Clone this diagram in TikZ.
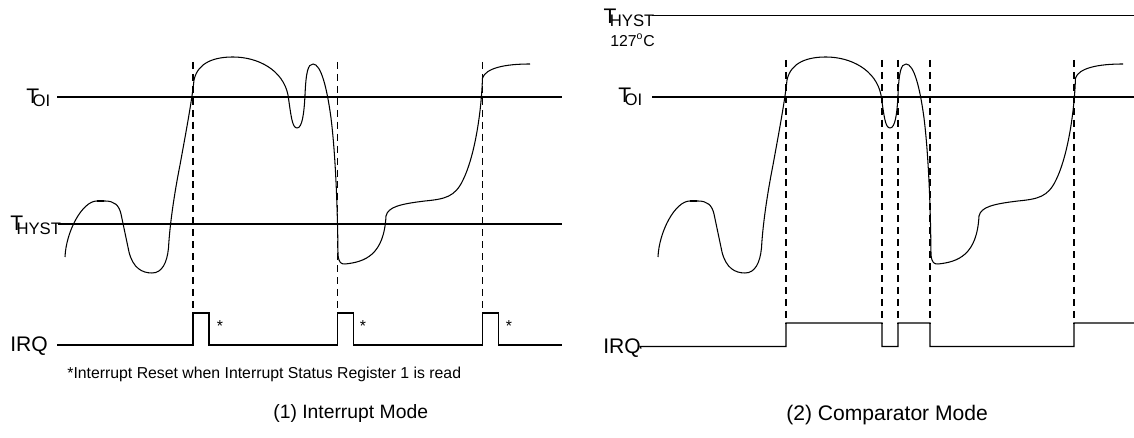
\documentclass[tikz,border=0pt]{standalone}
\usepackage{fontspec}
\setmainfont{Liberation Sans}
\usetikzlibrary{calc}
\tikzstyle{level}=[line width=0.6pt, draw=black]
\tikzstyle{guide}=[line width=0.6pt, dash pattern=on 4pt off 2.8pt]
\tikzstyle{temp}=[line width=0.6pt, line join=round]
\tikzstyle{lbl}=[inner sep=0pt, anchor=base west, font=\fontsize{12}{14}\selectfont]
\tikzstyle{small}=[inner sep=0pt, anchor=base west, font=\fontsize{9}{11}\selectfont]
\tikzstyle{caption}=[inner sep=0pt, anchor=base west, font=\fontsize{11}{13}\selectfont]
\newcommand{\tsub}[2]{#1\kern-3.8pt\raisebox{-1.8pt}{\fontsize{9.5}{10}\selectfont #2}}
\newcommand{\drawtemp}[0]
{
  \draw[temp] (65,257) .. controls (66,232) and (82,201) .. (97,201)
    -- (105,201) .. controls (114,201) and (119,205) .. (121,214)
    -- (129,252) .. controls (133,268) and (142,273) .. (152,273)
    .. controls (162,273) and (167,263) .. (168.5,248)
    .. controls (170,220) and (176,185) .. (180,165)
    .. controls (186,132) and (192,100) .. (194,80)
    .. controls (198,62) and (215,57) .. (233,57)
    .. controls (258,57) and (283,70) .. (288,95)
    .. controls (291,115) and (292,128) .. (297,128)
    .. controls (302,128) and (304,115) .. (305,95)
    .. controls (306,72) and (308,64) .. (313,64)
    .. controls (321,64) and (327,88) .. (331,118)
    .. controls (335,150) and (337.5,200) .. (338,255)
    .. controls (339,263) and (341,264) .. (345,264)
    .. controls (365,262) and (384,255) .. (386,216)
    .. controls (388,207) and (400,204) .. (425,201)
    .. controls (445,199) and (455,197) .. (463,180)
    .. controls (473,160) and (481,120) .. (482.5,78)
    .. controls (486,68) and (505,64) .. (530,64);
  \draw[line width=1.1pt] (97,201) -- (104,201);
}

\begin{document}
\begin{tikzpicture}[x=0.02cm, y=-0.02cm]
	\useasboundingbox (0,0) rectangle (1134,438);

	% (1) interrupt mode
	\node[lbl] (toiL) at (26,103.3) {\tsub{T}{OI}};
	\node[lbl] (thystL) at (10,231) {\tsub{T}{HYST}};
	\node[lbl] (irqL) at (10,351.7) {IRQ};
	\coordinate (toiLa) at (57,97);
	\coordinate (toiLb) at (562,97);
	\coordinate (thystLa) at (58,224);
	\coordinate (thystLb) at (562,224);
	\draw[level] (toiLa) -- (toiLb);
	\draw[level] (thystLa) -- (thystLb);

	\drawtemp{}

	\foreach \x in {193,337.5,482.5}
		\draw[guide] (\x,62) -- (\x,313);
	\draw[level] (57,345) -| (193,313) -| (209,345) -| (337.5,313) -| (353.5,345)
		-| (482.5,313) -| (498.5,345) -- (562,345);
	\foreach \x/\n in {220/1,363/2,509/3}
		\node[small, anchor=base] (star\n) at (\x,331.5) {*};
	\node[small] (note) at (67,378.5) {*Interrupt Reset when Interrupt Status Register 1 is read};
	\node[caption] (capL) at (273,419) {(1) Interrupt Mode};

	% (2) comparator mode
	\node[lbl] (thystR) at (603.3,23.3) {\tsub{T}{HYST}};
	\node[small] (degR) at (610,46.7) {127\textsuperscript{o}C};
	\node[lbl] (toiR) at (618,102.5) {\tsub{T}{OI}};
	\node[lbl] (irqR) at (603,354) {IRQ};
	\coordinate (thystRa) at (652,15.7);
	\coordinate (thystRb) at (1134,15.7);
	\coordinate (toiRa) at (652,97);
	\coordinate (toiRb) at (1134,97);
	\draw[level] (thystRa) -- (thystRb);
	\draw[level] (toiRa) -- (toiRb);

	\begin{scope}[shift={(593,0)}]
		\drawtemp{}
	\end{scope}

	\foreach \x in {786,882,898,930,1074}
		\draw[guide] (\x,60) -- (\x,323);
	\draw[level] (irqR.east) -- (640,346.5) -| (786,323) -| (882,346.5) -| (898,323)
		-| (930,346.5) -| (1074,323) -- (1134,323);
	\node[caption, font=\fontsize{12}{14}\selectfont] (capR) at (786,421) {(2) Comparator Mode};
\end{tikzpicture}
\end{document}
